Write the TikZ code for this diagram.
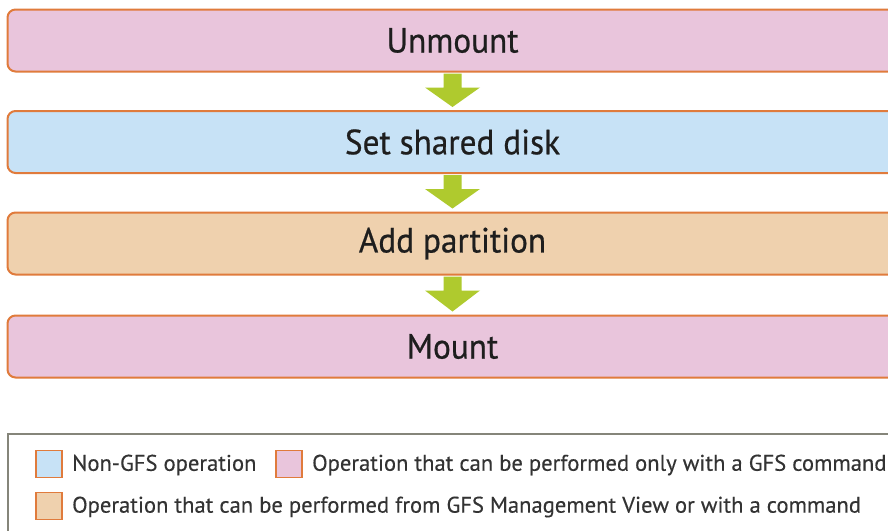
\documentclass[tikz,border=0pt]{standalone}
\usepackage{fontspec}
\setmainfont{PT Sans}
\newfontfamily\boxfont[FakeStretch=0.95,FakeBold=0.6]{PT Sans}
\newfontfamily\legfont[FakeBold=0.3]{PT Sans}
\usetikzlibrary{calc}
\definecolor{edgeor}{HTML}{E07B3C}
\definecolor{pinkf}{HTML}{E9C5DC}
\definecolor{bluef}{HTML}{C7E2F6}
\definecolor{tanf}{HTML}{EFD1AE}
\definecolor{arrowg}{HTML}{AFCA2E}
\definecolor{legframe}{HTML}{85857A}
\definecolor{txt}{HTML}{1E1E1E}
\definecolor{legtext}{HTML}{333333}
\tikzset{
  stepbox/.style={draw=edgeor, line width=2pt, rounded corners=8pt, minimum width=890pt, minimum height=62pt, inner sep=0pt, text=txt, font=\boxfont\fontsize{35}{37}\selectfont},
  legsq/.style={draw=edgeor, line width=1.6pt, minimum width=26pt, minimum height=27pt, inner sep=0pt},
  legtxt/.style={anchor=west, inner sep=0pt, text=legtext, font=\legfont\fontsize{22.6}{24}\selectfont},
  flowarrow/.style={fill=arrowg, draw=none}
}
\begin{document}
\begin{tikzpicture}[x=1pt,y=-1pt]
\useasboundingbox (0,0) rectangle (888,530);
\clip (0,0) rectangle (888,530);
\fill[white] (0,0) rectangle (888,530);
\node[stepbox, fill=pinkf] (s1) at (452.5,40.5) {Unmount};
\node[stepbox, fill=bluef] (s2) at (452.5,142) {Set shared disk};
\node[stepbox, fill=tanf] (s3) at (452.5,243.5) {Add partition};
\node[stepbox, fill=pinkf] (s4) at (452.5,346.5) {Mount};
\foreach \a/\b in {s1/s2, s2/s3, s3/s4}{
  \fill[flowarrow] ($(\a.south)+(-9,1)$) -- ($(\a.south)+(9,1)$) -- ($(\a.south)+(9,15)$)
    -- ($(\a.south)+(27.5,15)$) -- ($(\b.north)+(0,-3)$) -- ($(\a.south)+(-27.5,15)$)
    -- ($(\a.south)+(-9,15)$) -- cycle;
}
\node[draw=legframe, line width=2pt, minimum width=900pt, minimum height=120pt, anchor=north west, inner sep=0pt] (leg) at (7,433) {};
\node[legsq, fill=bluef] (k1) at (49,464) {};
\node[legtxt] (t1) at (72,465) {Non-GFS operation};
\node[legsq, fill=pinkf] (k2) at (289,464) {};
\node[legtxt] (t2) at (312,465) {Operation that can be performed only with a GFS command};
\node[legsq, fill=tanf] (k3) at (49,506) {};
\node[legtxt] (t3) at (72,507) {Operation that can be performed from GFS Management View or with a command};
\end{tikzpicture}
\end{document}
